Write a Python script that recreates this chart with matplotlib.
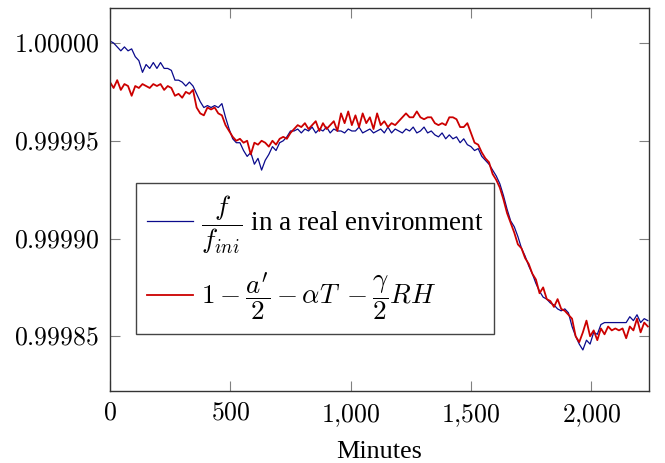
import matplotlib
matplotlib.use("Agg")
import matplotlib.pyplot as plt
import numpy as np
from matplotlib.ticker import FuncFormatter

plt.rcParams["font.family"] = ["Liberation Serif", "DejaVu Serif"]
plt.rcParams["mathtext.fontset"] = "cm"

# sampled every 15 minutes, deviation from 1 in units of 1e-6
step_min = 15
blue_ppm = [1, 0, -2, -4, -2, -4, -3, -7, -9, -15, -11, -13, -10, -13, -10, -13,
            -13, -14, -19, -19, -20, -22, -20, -22, -26, -30, -33, -32, -33, -32,
            -33, -31, -38, -44, -49, -51, -51, -55, -58, -56, -62, -59, -65, -60,
            -57, -53, -55, -51, -50, -48, -45, -45, -44, -46, -44, -45, -43, -46,
            -44, -45, -43, -46, -44, -45, -45, -46, -44, -45, -45, -43, -46, -45,
            -44, -46, -45, -44, -46, -43, -46, -44, -45, -46, -44, -45, -43, -46,
            -45, -43, -46, -45, -47, -48, -46, -49, -47, -49, -48, -51, -49, -52,
            -53, -55, -54, -58, -60, -62, -65, -68, -72, -78, -85, -91, -94, -99,
            -105, -109, -114, -118, -123, -127, -130, -131, -133, -134, -136, -137,
            -136, -138, -145, -150, -154, -157, -152, -154, -148, -149, -144, -143,
            -143, -143, -143, -143, -143, -143, -140, -142, -139, -143, -141, -142]
red_ppm = [-20, -23, -19, -24, -21, -22, -27, -22, -23, -21, -22, -23, -21, -22,
           -21, -24, -22, -23, -27, -26, -28, -25, -26, -24, -33, -36, -37, -33,
           -34, -33, -36, -37, -42, -45, -48, -50, -49, -51, -50, -57, -51, -52,
           -50, -51, -53, -50, -52, -49, -48, -49, -46, -44, -42, -43, -41, -44,
           -42, -40, -45, -41, -44, -42, -40, -45, -36, -41, -35, -42, -37, -43,
           -36, -41, -38, -44, -36, -42, -40, -43, -41, -42, -40, -38, -36, -38,
           -38, -35, -38, -39, -38, -38, -41, -42, -41, -42, -38, -38, -39, -43,
           -43, -41, -46, -51, -52, -56, -59, -61, -67, -70, -74, -80, -87, -92,
           -97, -103, -105, -110, -113, -118, -121, -128, -125, -131, -132, -135,
           -131, -136, -137, -139, -141, -150, -153, -148, -142, -150, -147, -152,
           -146, -149, -145, -147, -146, -147, -146, -151, -145, -147, -141, -148,
           -143, -145]

minutes_b = np.arange(len(blue_ppm)) * step_min
minutes_r = np.arange(len(red_ppm)) * step_min
blue = 1 + np.array(blue_ppm) * 1e-6
red = 1 + np.array(red_ppm) * 1e-6

fig = plt.figure(figsize=(6.65, 4.63), dpi=100)
ax = fig.add_axes([0.1654, 0.1555, 0.8106, 0.8272])

ax.plot(minutes_b, blue, color="#0a0a8c", lw=0.9,
        label=r"$\dfrac{f}{f_{ini}}$ in a real environment")
ax.plot(minutes_r, red, color="#cc0000", lw=1.3,
        label=r"$1-\dfrac{a^{\prime}}{2}-\alpha T\;-\dfrac{\gamma}{2}RH$")

ax.set_xlim(0, 2240)
ax.set_ylim(0.999822, 1.0000179)
ax.set_xticks([0, 500, 1000, 1500, 2000])
ax.set_yticks([0.99985, 0.9999, 0.99995, 1.0])
ax.xaxis.set_major_formatter(FuncFormatter(lambda v, p: "$" + f"{v:,.0f}".replace(",", "{,}") + "$"))
ax.yaxis.set_major_formatter(FuncFormatter(lambda v, p: f"${v:.5f}$"))
ax.tick_params(direction="in", length=7, width=0.8, color="#808080",
               top=True, right=True, labelsize=18.5, pad=8)
for s in ax.spines.values():
    s.set_color("#333333")
    s.set_linewidth(1.0)

ax.set_xlabel("Minutes", fontsize=18.8, labelpad=9)

leg = ax.legend(loc="lower left", bbox_to_anchor=(0.048, 0.149), fontsize=19.5,
                frameon=True, fancybox=False, framealpha=1, edgecolor="#444444",
                handlelength=1.7, handletextpad=0.3, labelspacing=0.55,
                borderpad=0.4, borderaxespad=0)
leg.get_frame().set_linewidth(1.0)

fig.savefig("out.png", dpi=100)
